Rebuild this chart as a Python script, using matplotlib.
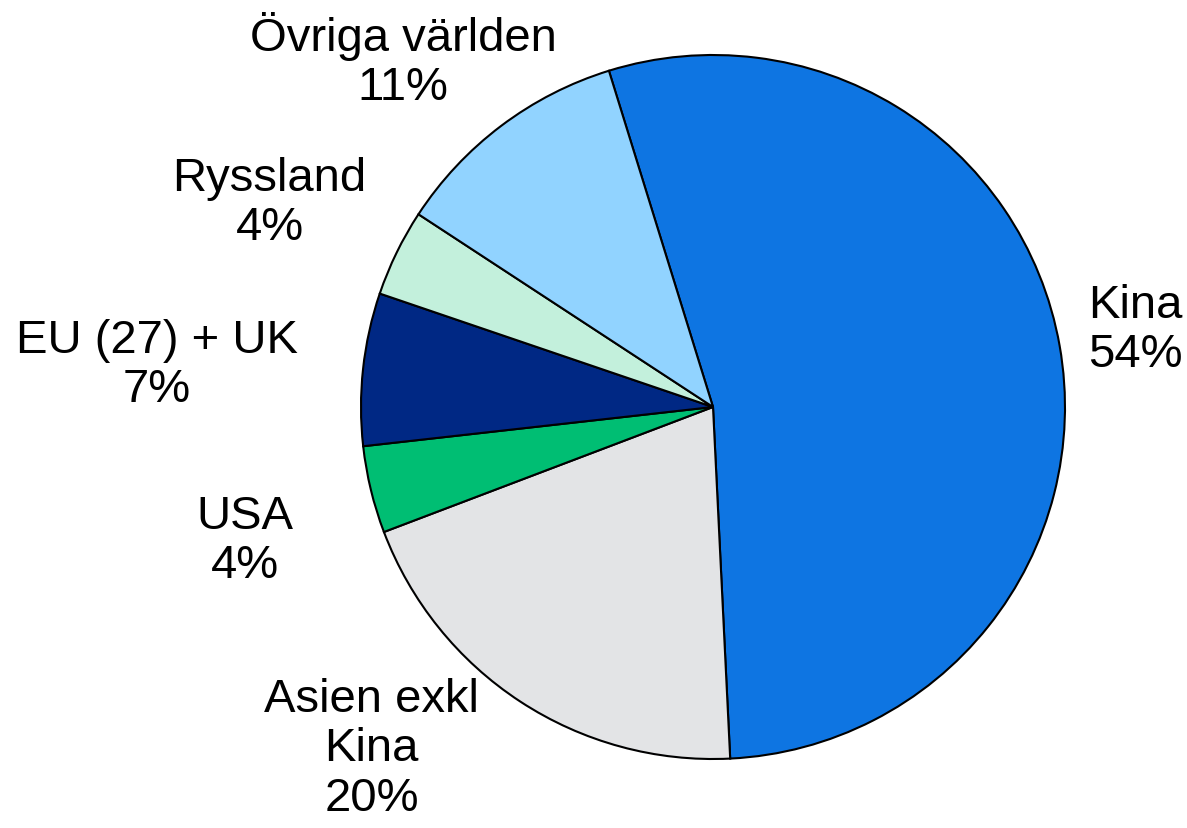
import matplotlib.pyplot as plt

# data
labels = ["Kina", "Asien exkl\nKina", "USA", "EU (27) + UK", "Ryssland", "Övriga världen"]
values = [54, 20, 4, 7, 4, 11]
colors = ["#0E75E2", "#E3E4E6", "#00BE73", "#002884", "#C3F0DC", "#91D3FF"]

# label positions in units of the pie radius
label_pos = [(1.20, 0.22), (-0.97, -0.97), (-1.33, -0.38), (-1.58, 0.12),
             (-1.26, 0.58), (-0.88, 0.985)]

plt.rcParams['font.family'] = ['Liberation Sans', 'DejaVu Sans']

fig = plt.figure(figsize=(11.87, 8.29), dpi=100)
ax = fig.add_axes([0, 0, 1, 1])

ax.pie(values, colors=colors, startangle=107.2, counterclock=False,
       radius=1.0, wedgeprops=dict(edgecolor="black", linewidth=1.5))

for lab, v, (x, y) in zip(labels, values, label_pos):
    ax.text(x, y, f"{lab}\n{v}%", ha="center", va="center",
            fontsize=34, linespacing=1.15)

R = 352.0
ax.set_xlim(-713 / R, (1187 - 713) / R)
ax.set_ylim(-(829 - 408) / R, 408 / R)
ax.set_aspect('auto')
ax.axis('off')

fig.savefig("out.png", dpi=100)
